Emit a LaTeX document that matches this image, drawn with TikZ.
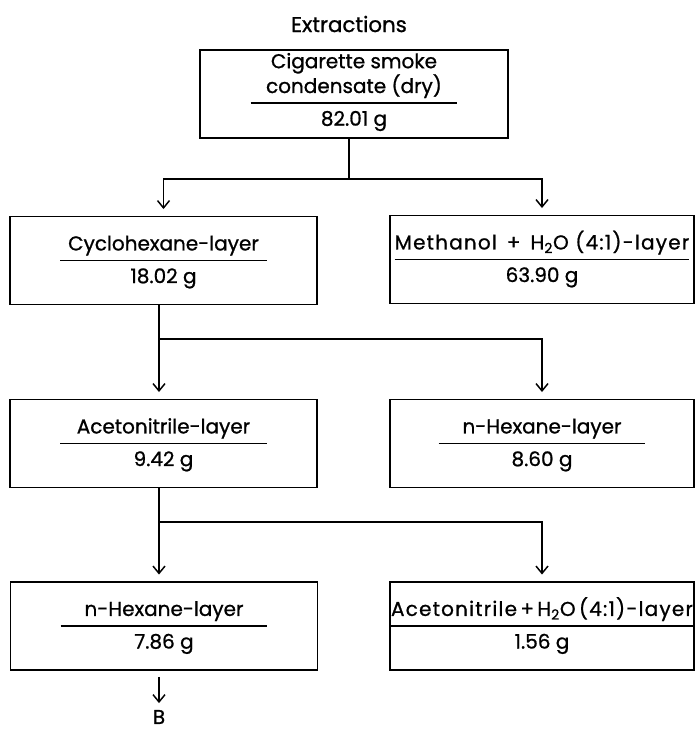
\documentclass[tikz,border=0pt]{standalone}
\usepackage{fontspec}
\setmainfont{Poppins}[FakeBold=0.9]
\usetikzlibrary{arrows.meta,positioning}
\setlength{\arrayrulewidth}{1.1pt}
\tikzset{%
  layerbox/.style = {rectangle,draw,line width=1.2pt,minimum width=230pt,
        minimum height=66pt,inner sep=0pt},
  flow/.style = {-{Straight Barb[length=5.5pt,width=9pt,line width=1.1pt]},
        line width=1.2pt,shorten >=5pt},
  link/.style = {line width=1.2pt}
}
\newcommand{\layer}[2]{{\renewcommand{\arraystretch}{1.3}%
  \begin{tabular}{@{}c@{}}#1\\\hline\makebox[155pt]{#2}\end{tabular}}}
\newcommand{\twolines}[2]{{\renewcommand{\arraystretch}{0.85}%
  \begin{tabular}[b]{@{}c@{}}#1\\#2\end{tabular}}}
\newcommand{\wide}[1]{{\addfontfeature{LetterSpace=6}#1}}

\begin{document}
\begin{tikzpicture}[x=0.75pt,y=-0.75pt,font=\fontsize{15}{18}\selectfont]
        \useasboundingbox (0,0) rectangle (697,732);
        % title
        \node (title) at (349,24) {\fontsize{16}{18}\selectfont Extractions};
        % layers
        \node[layerbox,minimum width=231pt] (csc) at (354,94)
            {\layer{\twolines{Cigarette smoke}{condensate (dry)}}{82.01 g}};
        \node[layerbox] (chx) at (163.5,260.5) {\layer{Cyclohexane-layer}{18.02 g}};
        \node[layerbox,minimum width=228pt] (meoh) at (542,259.5)
            {\layer{\wide{Methanol\enspace+\enspace H\textsubscript{2}O (4:1)-layer}}{63.90 g}};
        \node[layerbox] (acn) at (163.5,443.5) {\layer{Acetonitrile-layer}{9.42 g}};
        \node[layerbox,minimum width=228pt] (hexa) at (542,443.5) {\layer{n-Hexane-layer}{8.60 g}};
        \node[layerbox] (hexb) at (164,626) {\layer{n-Hexane-layer}{7.86 g}};
        \node[layerbox,minimum width=228pt] (acnw) at (542,626)
            {\layer{\wide{Acetonitrile\,+\,H\textsubscript{2}O\,(4:1)-layer}}{1.56 g}};
        \node[inner sep=1pt] (b) at (159,717) {B};
        % branch points
        \coordinate (j1) at (349,179);
        \coordinate (j2) at (159,339);
        \coordinate (j3) at (159,522);
        % extraction steps
        \draw [link] (csc.south -| j1) -- (j1);
        \draw [flow] (j1) -| (chx.north);
        \draw [flow] (j1) -| (meoh.north);
        \draw [flow] (chx.south -| j2) -- (acn.north -| j2);
        \draw [flow] (j2) -| (hexa.north);
        \draw [flow] (acn.south -| j3) -- (hexb.north -| j3);
        \draw [flow] (j3) -| (acnw.north);
        \draw [flow,shorten <=4.5pt,shorten >=4pt] (hexb.south -| b) -- (b.north);
    \end{tikzpicture}
\end{document}
